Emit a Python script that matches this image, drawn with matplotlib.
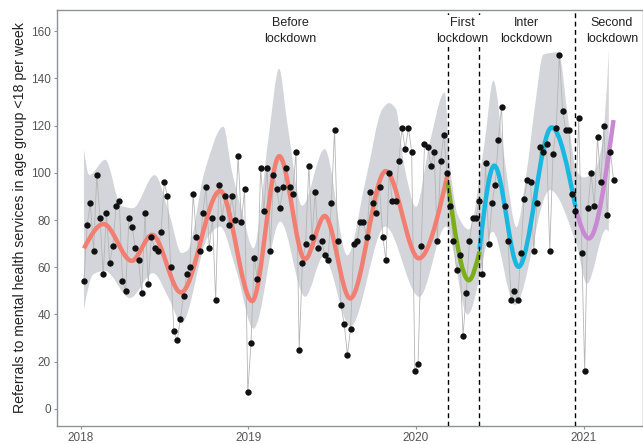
import numpy as np
import pandas as pd
import matplotlib
matplotlib.use('Agg')
import matplotlib.pyplot as plt
from matplotlib.path import Path
from matplotlib.patches import PathPatch

plt.rcParams['font.family'] = ['Liberation Sans', 'DejaVu Sans']

# weekly referrals
weeks = pd.date_range('2018-01-07', periods=166, freq='7D')
referrals = [54, 78, 87, 67, 99, 81, 57, 83, 62, 69,
             86, 88, 54, 50, 81, 77, 68, 63, 49, 83,
             53, 73, 68, 67, 75, 96, 90, 60, 33, 29,
             38, 48, 57, 60, 91, 73, 67, 83, 94, 68,
             81, 46, 95, 81, 90, 78, 90, 80, 107, 79,
             93, 7, 28, 64, 55, 102, 84, 102, 67, 99,
             93, 85, 94, 102, 94, 91, 109, 25, 62, 70,
             103, 73, 92, 68, 71, 65, 63, 87, 118, 71,
             44, 36, 23, 34, 70, 71, 79, 79, 73, 92,
             87, 83, 94, 73, 63, 100, 88, 88, 105, 119,
             110, 119, 109, 16, 19, 69, 112, 111, 103, 109,
             71, 105, 116, 100, 86, 71, 59, 65, 31, 49,
             71, 81, 81, 88, 57, 104, 70, 87, 95, 114,
             128, 86, 71, 46, 50, 46, 66, 89, 97, 96,
             67, 87, 111, 109, 112, 67, 108, 119, 150, 126,
             118, 118, 91, 84, 123, 66, 16, 85, 100, 86,
             115, 96, 120, 82, 109, 97]

# fitted curve per period: knots (decimal year, value)
before_x = [2018.018, 2018.135, 2018.303, 2018.425, 2018.597, 2018.831, 2019.022,
            2019.184, 2019.337, 2019.455, 2019.607, 2019.819, 2020.017, 2020.189]
before_y = [68, 78.3, 62.7, 73.7, 49.3, 92.3, 45.7, 107, 63.4, 81.7, 46.8, 100.7, 63.8, 99.5]
first_x = [2020.189, 2020.315, 2020.379]
first_y = [96, 54.5, 66.6]
inter_x = [2020.379, 2020.467, 2020.612, 2020.81, 2020.952]
inter_y = [67.5, 103, 60.2, 119.2, 85.6]
second_x = [2020.952, 2021.032, 2021.179]
second_y = [84.9, 72.2, 122.3]

# confidence band edges
upper_x = [2018.018, 2018.05, 2018.145, 2018.24, 2018.31, 2018.44, 2018.53, 2018.60, 2018.635,
           2018.74, 2018.85, 2018.9, 2018.96, 2019.03, 2019.12, 2019.183, 2019.23, 2019.32,
           2019.455, 2019.59, 2019.70, 2019.80, 2019.84, 2019.88, 2019.93, 2020.0, 2020.08,
           2020.172, 2020.2, 2020.25, 2020.315, 2020.408, 2020.462, 2020.53, 2020.60, 2020.66,
           2020.71, 2020.76, 2020.85, 2020.91, 2020.957, 2021.0, 2021.06, 2021.11, 2021.151]
upper_y = [110, 99, 105.5, 86, 85, 99, 82, 66, 67,
           101, 119.5, 101, 84, 68, 115, 144, 122, 86,
           110, 65, 97, 127, 129.5, 127, 103, 85.5, 112,
           134, 105, 82, 76, 112, 139, 105, 77, 100,
           128, 150, 151, 122, 101, 98, 100, 112, 152]
lower_x = [2018.018, 2018.074, 2018.143, 2018.293, 2018.43, 2018.53, 2018.60, 2018.76, 2018.83,
           2018.93, 2019.03, 2019.19, 2019.338, 2019.448, 2019.608, 2019.817, 2020.02, 2020.179,
           2020.308, 2020.458, 2020.59, 2020.8, 2020.957, 2021.02, 2021.135, 2021.151]
lower_y = [42, 57, 58.5, 47, 57.5, 46, 36.3, 73, 77.2,
           58, 34, 79.3, 47.5, 64.5, 35, 77.2, 47.5, 77.2,
           40, 75, 44, 92.7, 70, 53, 76, 75]

lockdown_lines = [2020.189, 2020.379, 2020.952]
period_labels = ['Before\nlockdown', 'First\nlockdown', 'Inter\nlockdown', 'Second\nlockdown']
label_x = [2019.248, 2020.277, 2020.66, 2021.17]
colors = ['#F27E72', '#7CAE1A', '#18B8E0', '#C888D2']


def smooth_verts(xs, ys, end=1.5):
    # monotone cubic hermite knots -> bezier control points
    xs = np.asarray(xs, float)
    ys = np.asarray(ys, float)
    h = np.diff(xs)
    d = np.diff(ys) / h
    m = np.zeros(len(xs))
    for i in range(1, len(xs) - 1):
        if d[i - 1] * d[i] > 0:
            w1 = 2 * h[i] + h[i - 1]
            w2 = h[i] + 2 * h[i - 1]
            m[i] = (w1 + w2) / (w1 / d[i - 1] + w2 / d[i])
    m[0] = end * d[0]
    m[-1] = end * d[-1]
    verts = [(xs[0], ys[0])]
    for i in range(len(h)):
        verts += [(xs[i] + h[i] / 3, ys[i] + m[i] * h[i] / 3),
                  (xs[i + 1] - h[i] / 3, ys[i + 1] - m[i + 1] * h[i] / 3),
                  (xs[i + 1], ys[i + 1])]
    return verts


yr = weeks.year + (weeks.dayofyear - 0.5) / 365.0

fig = plt.figure(figsize=(6.43, 4.44), dpi=100)
ax = fig.add_axes([57 / 643, 18 / 444, 586 / 643, 416 / 444])

# band
up = smooth_verts(upper_x, upper_y)
lo = smooth_verts(lower_x, lower_y)
band_verts = up + lo[::-1] + [up[0]]
band_codes = ([Path.MOVETO] + [Path.CURVE4] * (len(up) - 1) + [Path.LINETO]
              + [Path.CURVE4] * (len(lo) - 1) + [Path.CLOSEPOLY])
ax.add_patch(PathPatch(Path(band_verts, band_codes), facecolor='#D3D5DA',
                       edgecolor='none', zorder=1))

ax.plot(yr, referrals, color='#B5B5B5', lw=0.6, zorder=2)

for (cx, cy), col in zip([(before_x, before_y), (first_x, first_y),
                          (inter_x, inter_y), (second_x, second_y)], colors):
    v = smooth_verts(cx, cy)
    p = Path(v, [Path.MOVETO] + [Path.CURVE4] * (len(v) - 1))
    ax.add_patch(PathPatch(p, facecolor='none', edgecolor=col, lw=3.2,
                           capstyle='butt', zorder=3))

ax.scatter(yr, referrals, s=21, color='#111111', zorder=4, linewidths=0)

for lx in lockdown_lines:
    ax.axvline(lx, color='black', lw=1.0, ls=(0, (3.5, 2.5)), zorder=5)

for lab, lx in zip(period_labels, label_x):
    ax.text(lx, 160, lab, ha='center', va='center', fontsize=9, linespacing=1.4,
            color='#222222', zorder=6,
            bbox=dict(facecolor='white', edgecolor='none', pad=1.5))

ax.set_xlim(2017.857, 2021.355)
ax.set_ylim(-7.2, 168.9)
ax.set_xticks([2018, 2019, 2020, 2021])
ax.set_xticklabels(['2018', '2019', '2020', '2021'])
ax.set_yticks(range(0, 161, 20))
for s in ax.spines.values():
    s.set_color('#8E9197')
    s.set_linewidth(1.0)
ax.tick_params(colors='#8E9197', labelcolor='#555555', labelsize=8.5, length=2.5, pad=2)

fig.text(20 / 643, 1 - 218 / 444, 'Referrals to mental health services in age group <18 per week',
         rotation=90, ha='center', va='center', fontsize=10.2, color='#222222')

fig.savefig('out.png', dpi=100)
